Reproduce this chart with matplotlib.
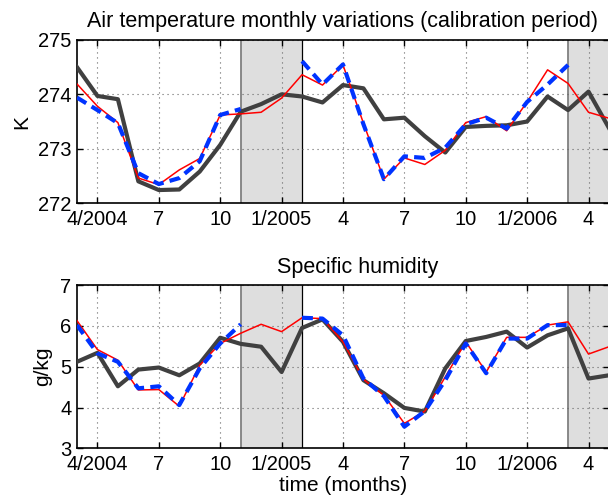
import matplotlib.pyplot as plt
import numpy as np

plt.rcParams['font.family'] = ['Liberation Sans', 'DejaVu Sans']

# months counted from 3/2004 (index 0) to 5/2006 (index 26)
months = np.arange(27)
tick_pos = [1, 4, 7, 10, 13, 16, 19, 22, 25]
tick_labels = ['4/2004', '7', '10', '1/2005', '4', '7', '10', '1/2006', '4']

# validation windows (shaded)
gap_start, gap_end = 8, 11
tail_start = 24

nan = np.nan

# air temperature (K)
temp_obs = [274.50, 273.97, 273.91, 272.40, 272.24, 272.25, 272.58, 273.07, 273.68,
            273.82, 274.00, 273.96, 273.85, 274.17, 274.11, 273.54, 273.57, 273.23,
            272.93, 273.40, 273.42, 273.43, 273.50, 273.96, 273.71, 274.05, 273.38]
temp_model = [274.19, 273.78, 273.48, 272.46, 272.34, 272.61, 272.82, 273.62, 273.64,
              273.67, 273.93, 274.36, 274.17, 274.54, 273.47, 272.44, 272.83, 272.71,
              272.97, 273.48, 273.59, 273.33, 273.86, 274.45, 274.20, 273.67, 273.56]
temp_calib = [273.94, 273.71, 273.47, 272.55, 272.35, 272.46, 272.77, 273.62, 273.73,
              nan, nan, 274.61, 274.18, 274.55, 273.45, 272.44, 272.86, 272.83,
              273.02, 273.45, 273.57, 273.37, 273.86, 274.18, 274.54, nan, nan]

# specific humidity (g/kg)
hum_obs = [5.12, 5.34, 4.52, 4.93, 4.98, 4.79, 5.08, 5.71, 5.56,
           5.49, 4.87, 5.95, 6.16, 5.61, 4.67, 4.35, 3.99, 3.90,
           4.96, 5.63, 5.73, 5.86, 5.47, 5.77, 5.94, 4.71, 4.79]
hum_model = [6.13, 5.42, 5.16, 4.43, 4.44, 4.03, 5.04, 5.57, 5.82,
             6.04, 5.86, 6.20, 6.18, 5.61, 4.69, 4.30, 3.61, 3.91,
             4.75, 5.61, 4.87, 5.72, 5.72, 6.02, 6.10, 5.31, 5.49]
hum_calib = [6.02, 5.33, 5.12, 4.47, 4.52, 4.06, 4.96, 5.57, 6.04,
             nan, nan, 6.20, 6.18, 5.77, 4.71, 4.28, 3.53, 3.91,
             4.67, 5.57, 4.84, 5.69, 5.69, 6.02, 6.02, nan, nan]


def draw_panel(ax, obs, model, calib, ylim, yticks, ylabel, ylabelpad,
               title, title_x):
    ax.axvspan(gap_start, gap_end, color='#dedede', zorder=0, lw=0)
    ax.axvspan(tail_start, 27, color='#dedede', zorder=0, lw=0)
    ax.axvline(gap_start, color='#808080', lw=1.3, zorder=1)
    ax.axvline(tail_start, color='#808080', lw=1.3, zorder=1)
    ax.axvline(gap_end, color='black', lw=0.9, zorder=1)

    ax.plot(months, obs, color='#404040', lw=3, zorder=3)
    ax.plot(months, model, color='#ff0000', lw=1.1, zorder=4)
    ax.plot(months, calib, color='#0033ff', lw=3, dashes=(2.6, 1.5), zorder=5)

    ax.set_xlim(0, 26)
    ax.set_ylim(*ylim)
    ax.set_xticks(tick_pos)
    ax.set_xticklabels(tick_labels)
    ax.set_yticks(yticks)
    ax.tick_params(direction='in', top=True, right=True, labelsize=14.5,
                   length=4, width=1)
    ax.tick_params(axis='x', pad=5)
    ax.tick_params(axis='y', pad=4)
    ax.grid(True, linestyle=(0, (1, 3.5)), color='#666666', lw=0.8)
    for s in ax.spines.values():
        s.set_linewidth(1.2)
    ax.set_ylabel(ylabel, fontsize=15, labelpad=ylabelpad)
    ax.set_title(title, fontsize=15.5, x=title_x, pad=9)


fig = plt.figure(figsize=(6.08, 4.99), dpi=100)
ax1 = fig.add_axes([0.1266, 0.593, 0.875, 0.327])
ax2 = fig.add_axes([0.1266, 0.1016, 0.875, 0.327])

draw_panel(ax1, temp_obs, temp_model, temp_calib, (272, 275), [272, 273, 274, 275],
           'K', 5, 'Air temperature monthly variations (calibration period)', 0.5)
draw_panel(ax2, hum_obs, hum_model, hum_calib, (3, 7), [3, 4, 5, 6, 7],
           'g/kg', 6, 'Specific humidity', 0.527)
ax2.set_xlabel('time (months)', fontsize=15, labelpad=1)

fig.savefig('out.png', dpi=100)
